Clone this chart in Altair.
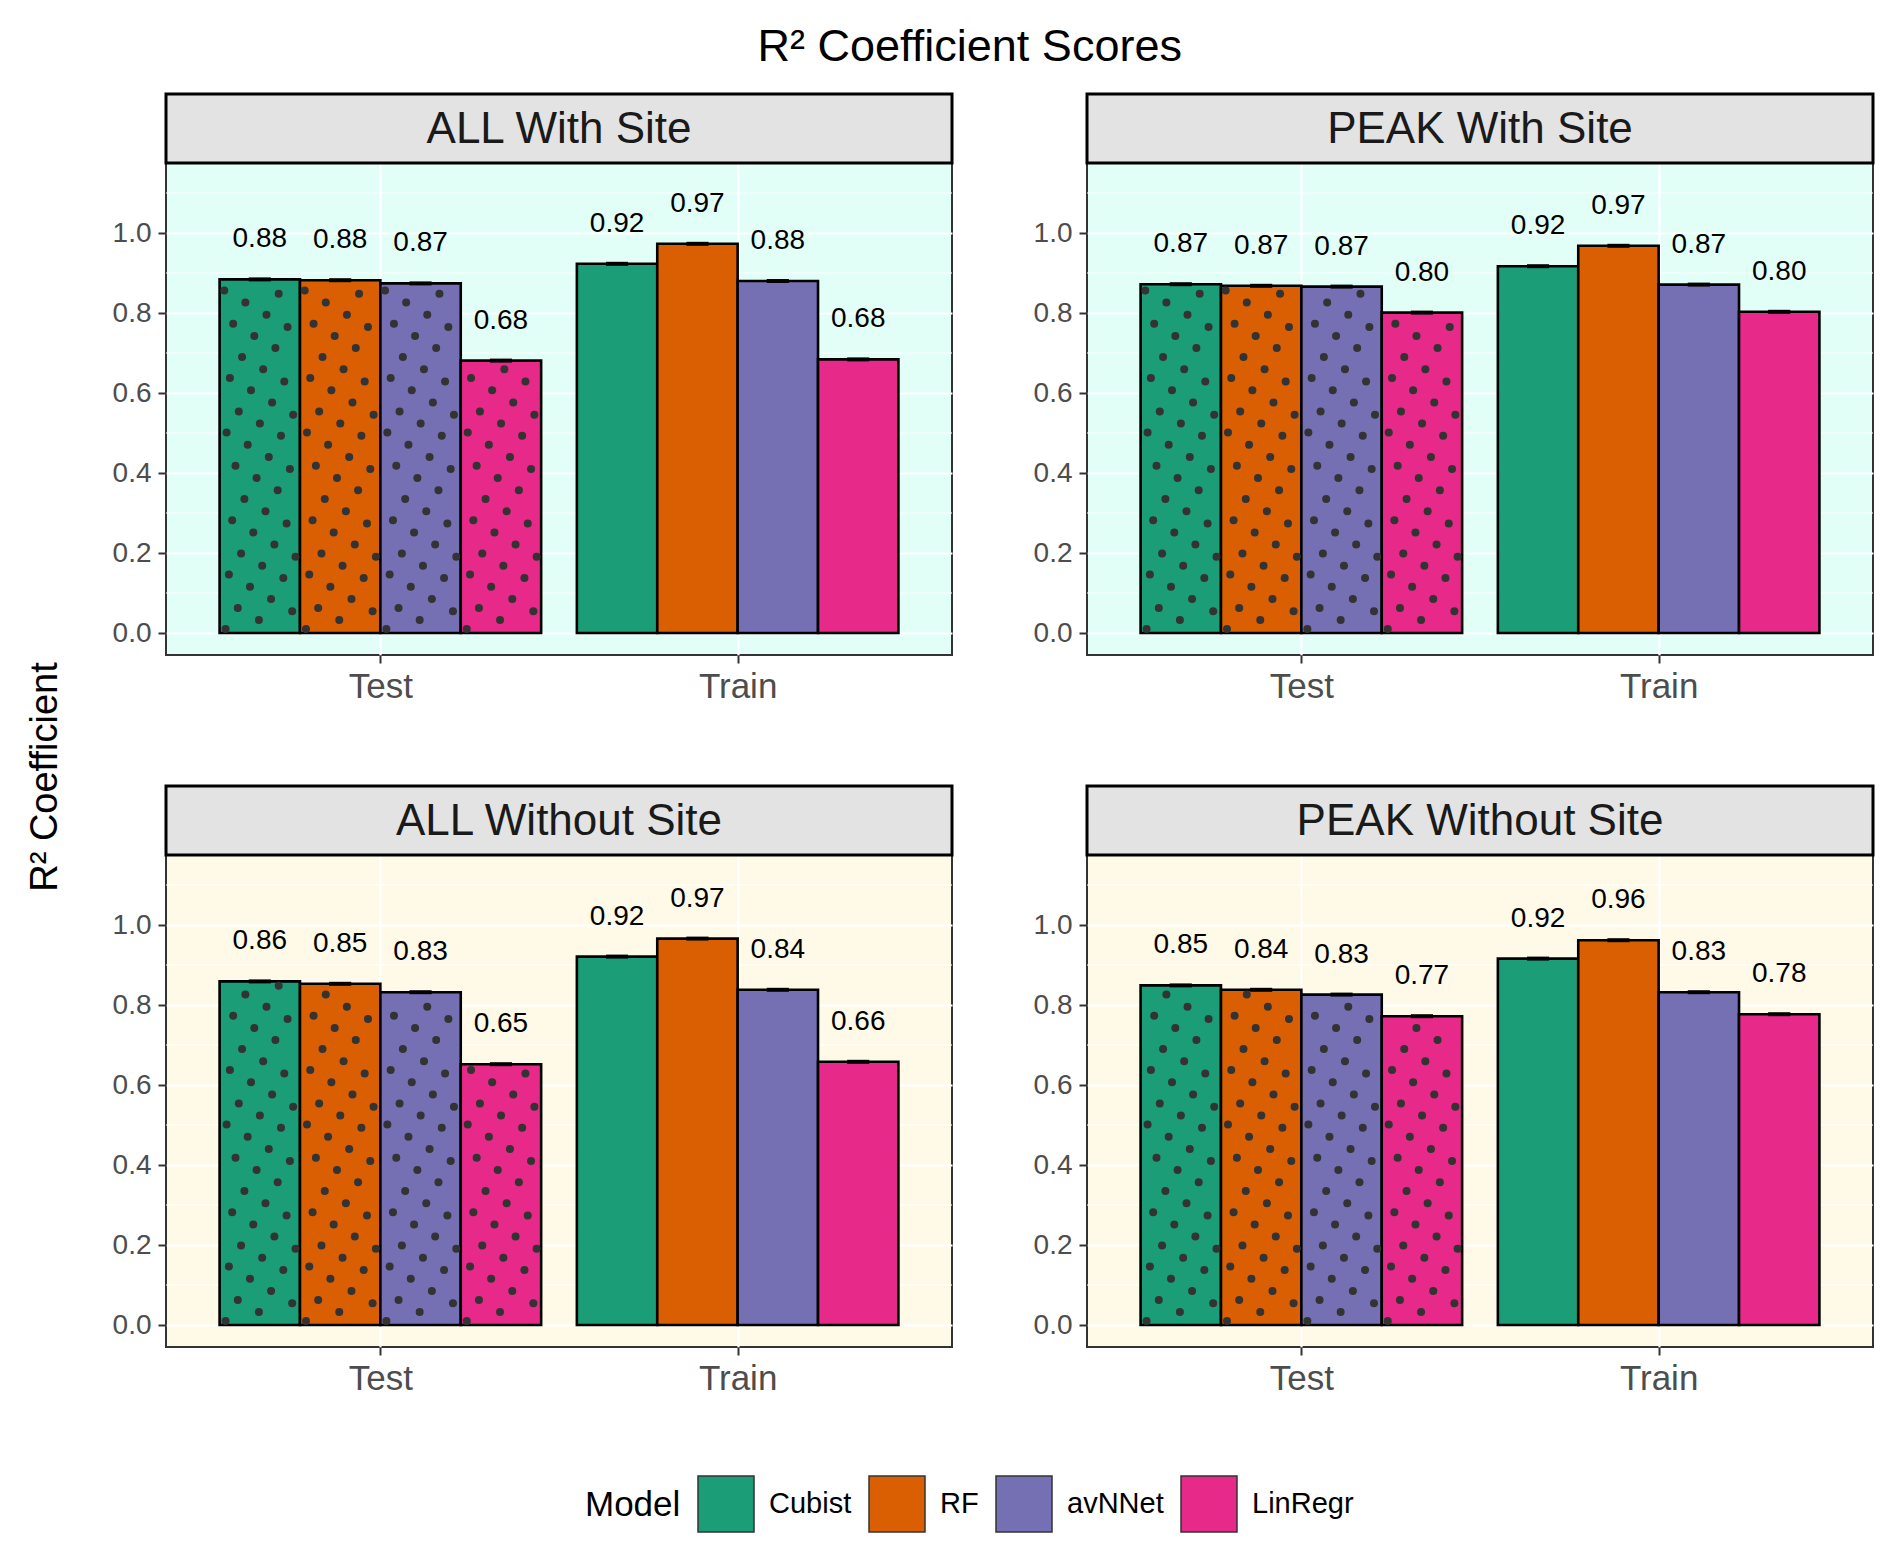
import altair as alt
import numpy as np
import pandas as pd

# categories
panels = ["ALL With Site", "PEAK With Site", "ALL Without Site", "PEAK Without Site"]
sets = ["Test", "Train"]
models = ["Cubist", "RF", "avNNet", "LinRegr"]
palette = ["#1B9E77", "#D95F02", "#7570B3", "#E7298A"]

# R2 values (Cubist, RF, avNNet, LinRegr)
all_with_test = [0.884, 0.882, 0.874, 0.681]
all_with_train = [0.923, 0.973, 0.880, 0.684]
peak_with_test = [0.872, 0.868, 0.866, 0.801]
peak_with_train = [0.917, 0.968, 0.871, 0.803]
all_without_test = [0.859, 0.853, 0.832, 0.652]
all_without_train = [0.921, 0.966, 0.838, 0.658]
peak_without_test = [0.849, 0.838, 0.826, 0.772]
peak_without_train = [0.916, 0.962, 0.832, 0.777]

values = {
    "ALL With Site": (all_with_test, all_with_train),
    "PEAK With Site": (peak_with_test, peak_with_train),
    "ALL Without Site": (all_without_test, all_without_train),
    "PEAK Without Site": (peak_without_test, peak_without_train),
}
backgrounds = {
    "ALL With Site": "#E2FFF7",
    "PEAK With Site": "#E2FFF7",
    "ALL Without Site": "#FFFAE8",
    "PEAK Without Site": "#FFFAE8",
}

W, H = 786, 492
STRIP_H = 69
XDOM = [0.4, 2.6]
YDOM = [-0.055, 1.175]
BW = 0.225  # dodge width of one bar (0.9 / 4)
XPX = W / (XDOM[1] - XDOM[0])
YPX = H / (YDOM[1] - YDOM[0])

FONT = "Liberation Sans"


def bar_table(panel):
    rows = []
    for s, vals in enumerate(values[panel]):
        for m, v in enumerate(vals):
            xc = (s + 1) + (m - 1.5) * BW
            rows.append({
                "Set": sets[s], "Model": models[m], "value": v,
                "xc": xc, "x0": xc - BW / 2, "x1": xc + BW / 2,
                "e0": xc - 0.031, "e1": xc + 0.031,
            })
    return pd.DataFrame(rows)


def dot_texture(df):
    # dotted fill of the Test bars: square lattice of 24.4 px rotated 30 degrees
    a = np.array([12.2, 21.1])
    b = np.array([21.1, -12.2])
    rows = []
    for r in df[df["Set"] == "Test"].itertuples():
        wpx = (r.x1 - r.x0) * XPX
        hpx = r.value * YPX
        for i in range(-80, 80):
            for j in range(-80, 80):
                p = i * a + j * b + np.array([6.0, 4.0])
                if 4 <= p[0] <= wpx - 4 and 4 <= p[1] <= hpx - 4:
                    rows.append({"dx": r.x0 + p[0] / XPX, "dy": p[1] / YPX})
    return pd.DataFrame(rows)


xaxis = alt.Axis(
    values=[1, 2], labelExpr="datum.value == 1 ? 'Test' : 'Train'",
    grid=True, gridColor="white", gridWidth=2.2, domain=False,
    tickColor="#333333", tickWidth=2, tickSize=8,
    labelFont=FONT, labelFontSize=35, labelColor="#4D4D4D", labelPadding=6,
    title=None,
)
yaxis = alt.Axis(
    values=[0, 0.2, 0.4, 0.6, 0.8, 1.0], format=".1f",
    grid=True, gridColor="white", gridWidth=2.2, domain=False,
    tickColor="#333333", tickWidth=2, tickSize=8,
    labelFont=FONT, labelFontSize=28, labelColor="#4D4D4D", labelPadding=7,
    title=None,
)
xscale = alt.Scale(domain=XDOM, nice=False, zero=False)
yscale = alt.Scale(domain=YDOM, nice=False, zero=False)

legend = alt.Legend(
    title="Model", orient="none", direction="horizontal",
    legendX=419, legendY=1312,
    titleOrient="left", titleFont=FONT, titleFontSize=35,
    titleFontWeight="normal", titleColor="black", titlePadding=16,
    labelFont=FONT, labelFontSize=29, labelColor="black",
    labelOffset=14, columnPadding=14,
    symbolType="square", symbolSize=3136,
    symbolStrokeColor="#333333", symbolStrokeWidth=1.5,
)


def panel_chart(panel, with_ylab=False):
    df = bar_table(panel)
    dots = dot_texture(df)
    minor = pd.DataFrame({"m": [0.1, 0.3, 0.5, 0.7, 0.9, 1.1]})
    head = pd.DataFrame({"label": [panel]})

    minor_grid = alt.Chart(minor).mark_rule(color="white", strokeWidth=1.1).encode(
        y=alt.Y("m:Q", scale=yscale, axis=yaxis)
    )
    bars = alt.Chart(df).mark_rect(stroke="black", strokeWidth=2.6).encode(
        x=alt.X("x0:Q", scale=xscale, axis=xaxis),
        x2="x1:Q",
        y=alt.Y("value:Q", scale=yscale, axis=yaxis),
        y2=alt.datum(0),
        color=alt.Color("Model:N", scale=alt.Scale(domain=models, range=palette), legend=legend),
    )
    texture = alt.Chart(dots).mark_circle(size=64, color="#333333", opacity=1).encode(
        x=alt.X("dx:Q", scale=xscale, axis=xaxis),
        y=alt.Y("dy:Q", scale=yscale, axis=yaxis),
    )
    errs = alt.Chart(df).mark_rule(color="black", strokeWidth=4).encode(
        x=alt.X("e0:Q", scale=xscale, axis=xaxis),
        x2="e1:Q",
        y=alt.Y("value:Q", scale=yscale, axis=yaxis),
    )
    labels = alt.Chart(df).mark_text(
        font=FONT, fontSize=28, color="black", dy=-40, baseline="middle"
    ).encode(
        x=alt.X("xc:Q", scale=xscale, axis=xaxis),
        y=alt.Y("value:Q", scale=yscale, axis=yaxis),
        text=alt.Text("value:Q", format=".2f"),
    )
    # facet strip drawn just above the panel
    strip_box = alt.Chart(head).mark_rect(
        fill="#E3E3E3", stroke="black", strokeWidth=3
    ).encode(
        x=alt.value(0), x2=alt.value(W), y=alt.value(-STRIP_H), y2=alt.value(0)
    )
    strip_text = alt.Chart(head).mark_text(
        font=FONT, fontSize=44, color="#1A1A1A", baseline="middle"
    ).encode(text="label:N", x=alt.value(W / 2), y=alt.value(-STRIP_H / 2 + 1))

    layers = [minor_grid, bars, texture, errs, labels, strip_box, strip_text]
    if with_ylab:
        ylab = alt.Chart(pd.DataFrame({"t": ["R² Coefficient"]})).mark_text(
            font=FONT, fontSize=38, color="black", angle=270, baseline="middle"
        ).encode(text="t:N", x=alt.value(-120), y=alt.value(614))
        layers.append(ylab)

    return alt.layer(*layers).properties(
        width=W, height=H,
        view=alt.ViewBackground(fill=backgrounds[panel], stroke="#333333", strokeWidth=2),
    )


chart = alt.concat(
    panel_chart(panels[0], with_ylab=True),
    panel_chart(panels[1]),
    panel_chart(panels[2]),
    panel_chart(panels[3]),
    columns=2,
    spacing={"row": 200, "column": 135},
    bounds="flush",
).properties(
    title=alt.TitleParams(
        "R² Coefficient Scores", font=FONT, fontSize=45, fontWeight="normal",
        color="black", anchor="middle", offset=22, dx=19,
    ),
    padding={"left": 18, "top": 16, "right": 0, "bottom": 0},
    background="white",
)

chart.save("out.html", embed_options={"renderer": "svg", "actions": False})
